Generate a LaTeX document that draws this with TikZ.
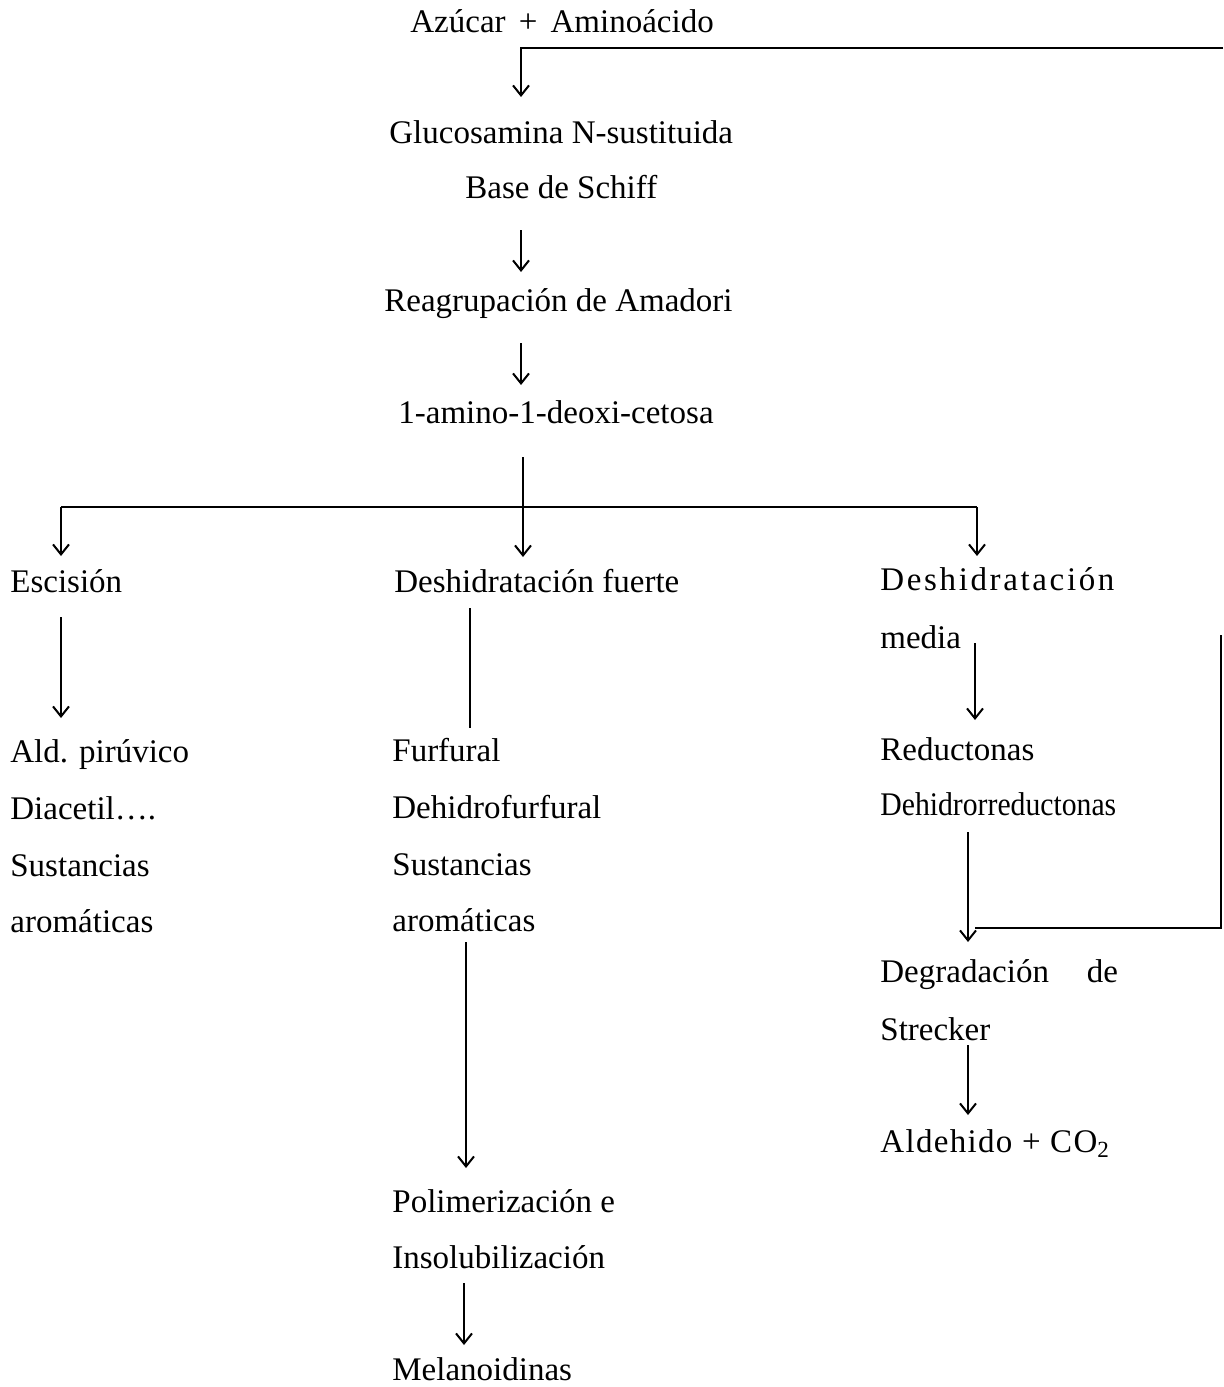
\documentclass[tikz,border=0pt]{standalone}
\usepackage{fontspec}
\setmainfont{Liberation Serif}
\usepackage{graphicx}
\usetikzlibrary{arrows.meta}
\begin{document}
\begin{tikzpicture}[x=0.5pt,y=-0.5pt,
  lbl/.style={anchor=base west,inner sep=0pt,font=\fontsize{16.5}{20}\selectfont},
  conn/.style={line width=1pt},
  arr/.style={line width=1pt,-{Straight Barb[length=5pt,width=8pt,line width=1pt]}}]
\useasboundingbox[fill=white] (0,0) rectangle (1223,1387);
% texts
\node[lbl] (az) at (410,32) {Azúcar\hspace{0.15em} + \hspace{0.15em}Aminoácido};
\node[lbl] (gluc) at (389,143) {Glucosamina N-sustituida};
\node[lbl] (base) at (465,198) {Base de Schiff};
\node[lbl] (reag) at (384,311) {Reagrupación de Amadori};
\node[lbl] (amino) at (398,423) {1-amino-1-deoxi-cetosa};
\node[lbl] (esc) at (10,592) {Escisión};
\node[lbl] (dfu) at (394,592) {Deshidratación fuerte};
\node[lbl] (dme) at (880,590) {\addfontfeatures{LetterSpace=8}Deshidratación};
\node[lbl] (media) at (880,648) {media};
\node[lbl] (ald) at (10,762) {Ald. pirúvico};
\node[lbl] (diac) at (10,819) {Diacetil\dots.};
\node[lbl] (susa) at (10,876) {Sustancias};
\node[lbl] (aroa) at (10,932) {aromáticas};
\node[lbl] (fur) at (392,761) {Furfural};
\node[lbl] (dehf) at (392,818) {Dehidrofurfural};
\node[lbl] (susb) at (392,875) {Sustancias};
\node[lbl] (arob) at (392,931) {aromáticas};
\node[lbl] (pol) at (392,1212) {Polimerización e};
\node[lbl] (ins) at (392,1268) {Insolubilización};
\node[lbl] (mel) at (392,1380) {Melanoidinas};
\node[lbl] (red) at (880,760) {Reductonas};
\node[lbl] (dehr) at (880,815) {\scalebox{0.9}[1]{Dehidrorreductonas}};
\node[lbl] (deg) at (880,982) {Degradación\hspace{1.15em}de};
\node[lbl] (str) at (880,1040) {Strecker};
\node[lbl] (aldco) at (880,1152) {\addfontfeatures{LetterSpace=4}Aldehido + CO\textsubscript{2}};
% connector points
\coordinate (t0) at (1223,48);
\coordinate (t1) at (521,48);
\coordinate (t2) at (521,97);
\coordinate (b1) at (521,230);
\coordinate (b2) at (521,272);
\coordinate (r1) at (521,343);
\coordinate (r2) at (521,385);
\coordinate (a1) at (523,457);
\coordinate (a2) at (523,557);
\coordinate (hl) at (61,507);
\coordinate (hr) at (977,507);
\coordinate (el) at (61,556);
\coordinate (er) at (977,556);
\coordinate (s1) at (61,617);
\coordinate (s2) at (61,718);
\coordinate (f1) at (470,608);
\coordinate (f2) at (470,728);
\coordinate (g1) at (466,942);
\coordinate (g2) at (466,1168);
\coordinate (p1) at (464,1283);
\coordinate (p2) at (464,1345);
\coordinate (m1) at (975,643);
\coordinate (m2) at (975,720);
\coordinate (d1) at (968,832);
\coordinate (d2) at (968,942);
\coordinate (j1) at (975,928);
\coordinate (j2) at (1221,928);
\coordinate (j3) at (1221,635);
\coordinate (k1) at (968,1045);
\coordinate (k2) at (968,1115);
% connectors
\draw[arr] (t0) -- (t1) -- (t2);
\draw[arr] (b1) -- (b2);
\draw[arr] (r1) -- (r2);
\draw[arr] (a1) -- (a2);
\draw[conn] (hl) -- (hr);
\draw[arr] (hl) -- (el);
\draw[arr] (hr) -- (er);
\draw[arr] (s1) -- (s2);
\draw[conn] (f1) -- (f2);
\draw[arr] (g1) -- (g2);
\draw[arr] (p1) -- (p2);
\draw[arr] (m1) -- (m2);
\draw[arr] (d1) -- (d2);
\draw[conn] (j1) -- (j2) -- (j3);
\draw[arr] (k1) -- (k2);
\end{tikzpicture}
\end{document}
